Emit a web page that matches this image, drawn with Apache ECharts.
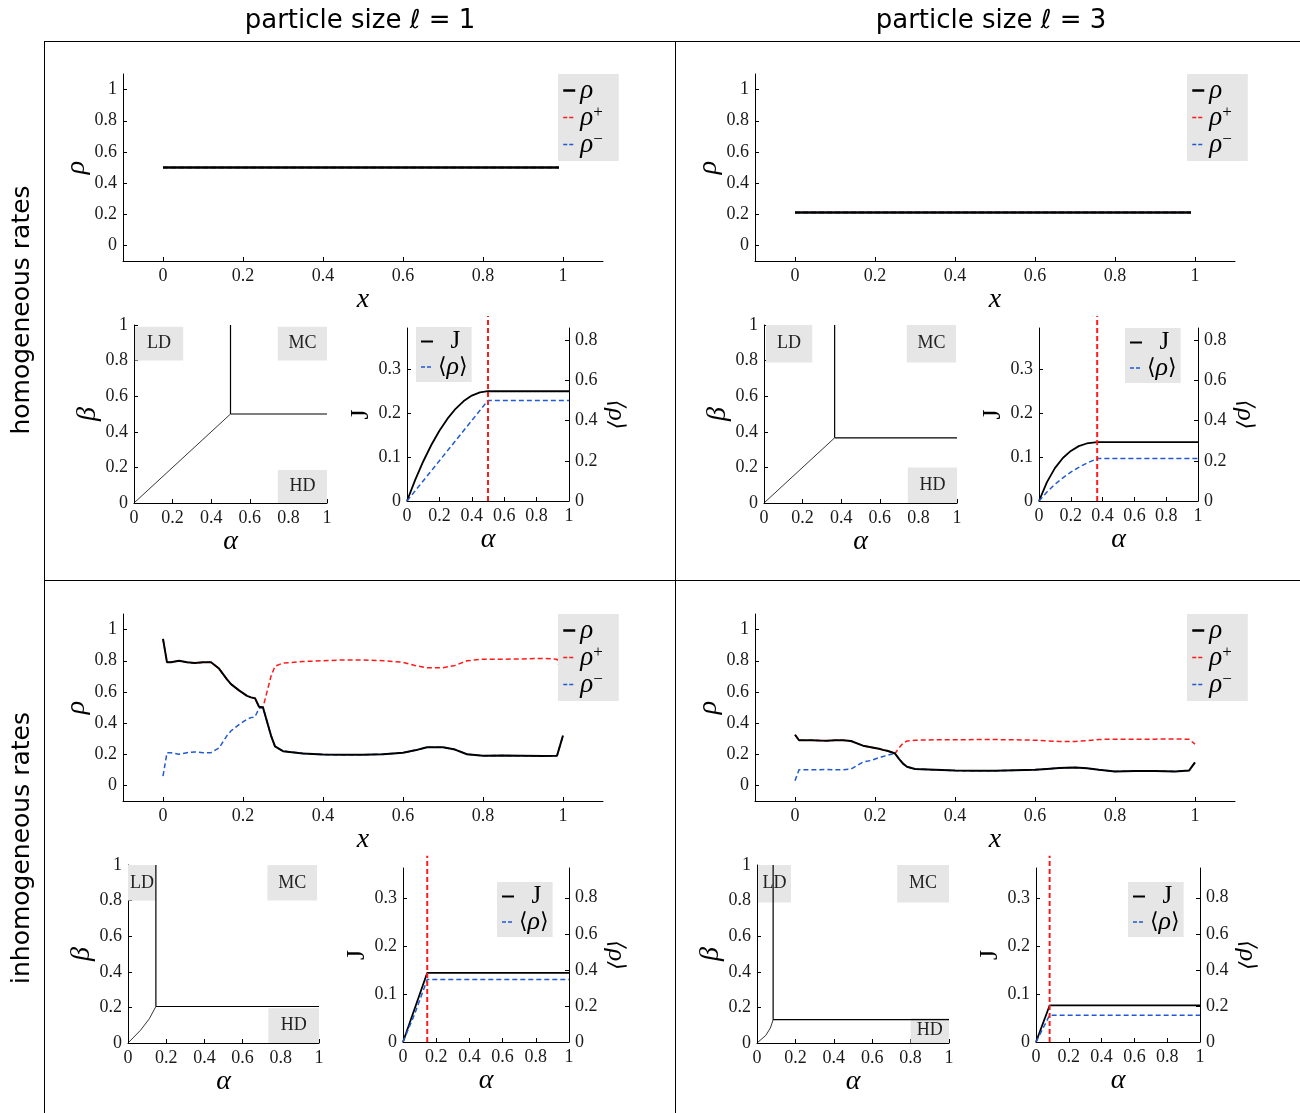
<!DOCTYPE html>
<html><head><meta charset="utf-8">
<script src="https://cdn.jsdelivr.net/npm/echarts@6/dist/echarts.min.js"></script>
<style>html,body{margin:0;padding:0;background:#fff}#c{width:1300px;height:1113px}</style>
</head><body><div id="c"></div>
<script>
// ---------------- DATA ----------------
const columnTitles = ['particle size \u2113 = 1', 'particle size \u2113 = 3'];
const rowTitles = ['homogeneous rates', 'inhomogeneous rates'];
const phaseLabels = ['LD', 'MC', 'HD'];

const densityTicks = [0, 0.2, 0.4, 0.6, 0.8, 1];
const unitTicks = [0, 0.2, 0.4, 0.6, 0.8, 1];
const currentTicks = [0, 0.1, 0.2, 0.3];
const meanDensityTicks = [0, 0.2, 0.4, 0.6, 0.8];

// homogeneous density profiles
const xHom = [0, 0.99];
const rhoHomL1 = [0.5, 0.5];
const rhoHomL3 = [0.211, 0.211];

// inhomogeneous density profiles
const xInh = [0, 0.01, 0.02, 0.04, 0.06, 0.08, 0.10, 0.12, 0.14, 0.16, 0.17, 0.19, 0.21, 0.22, 0.23, 0.24, 0.25,
  0.26, 0.27, 0.28, 0.30, 0.35, 0.40, 0.45, 0.50, 0.55, 0.60, 0.63, 0.66, 0.70, 0.73, 0.76, 0.80, 0.85, 0.90, 0.95, 0.985, 1.0];
const rhoInhL1 = [0.94, 0.79, 0.79, 0.80, 0.79, 0.785, 0.79, 0.79, 0.75, 0.68, 0.65, 0.61, 0.575, 0.565, 0.56, 0.505, 0.50,
  0.41, 0.32, 0.25, 0.22, 0.205, 0.198, 0.196, 0.197, 0.20, 0.21, 0.225, 0.245, 0.245, 0.23, 0.20, 0.19, 0.192, 0.19, 0.188, 0.19, 0.32];
const rhoPlusInhL1 = [0.94, 0.79, 0.79, 0.80, 0.79, 0.785, 0.79, 0.79, 0.75, 0.68, 0.65, 0.61, 0.575, 0.565, 0.56, 0.505, 0.50,
  0.60, 0.70, 0.765, 0.785, 0.795, 0.80, 0.805, 0.805, 0.80, 0.79, 0.77, 0.755, 0.755, 0.77, 0.80, 0.81, 0.81, 0.812, 0.815, 0.81, 0.685];
const rhoMinusInhL1 = [0.06, 0.21, 0.21, 0.20, 0.21, 0.215, 0.21, 0.21, 0.24, 0.32, 0.35, 0.39, 0.425, 0.435, 0.44, 0.495, 0.50,
  0.41, 0.32, 0.25, 0.22, 0.205, 0.198, 0.196, 0.197, 0.20, 0.21, 0.225, 0.245, 0.245, 0.23, 0.20, 0.19, 0.192, 0.19, 0.188, 0.19, 0.32];
const rhoInhL3 = [0.325, 0.29, 0.29, 0.29, 0.288, 0.287, 0.29, 0.29, 0.285, 0.265, 0.255, 0.245, 0.235, 0.228, 0.222, 0.215, 0.205,
  0.17, 0.14, 0.12, 0.105, 0.10, 0.095, 0.094, 0.094, 0.097, 0.10, 0.106, 0.112, 0.115, 0.11, 0.10, 0.09, 0.092, 0.092, 0.09, 0.095, 0.148];
const rhoPlusInhL3 = [0.325, 0.29, 0.29, 0.29, 0.288, 0.287, 0.29, 0.29, 0.285, 0.265, 0.255, 0.245, 0.235, 0.228, 0.222, 0.215, 0.205,
  0.24, 0.27, 0.285, 0.29, 0.293, 0.293, 0.294, 0.294, 0.293, 0.29, 0.286, 0.282, 0.282, 0.287, 0.295, 0.297, 0.297, 0.297, 0.298, 0.296, 0.265];
const rhoMinusInhL3 = [0.03, 0.10, 0.10, 0.10, 0.101, 0.102, 0.10, 0.10, 0.105, 0.135, 0.15, 0.16, 0.178, 0.185, 0.192, 0.20, 0.205,
  0.17, 0.14, 0.12, 0.105, 0.10, 0.095, 0.094, 0.094, 0.097, 0.10, 0.106, 0.112, 0.115, 0.11, 0.10, 0.09, 0.092, 0.092, 0.09, 0.095, 0.148];

// phase diagrams: LD/HD coexistence line, ending at the triple point
const coexAlphaHomL1 = [0, 0.5];
const coexBetaHomL1 = [0, 0.5];
const coexAlphaHomL3 = [0, 0.366];
const coexBetaHomL3 = [0, 0.366];
const coexAlphaInhL1 = [0, 0.065, 0.112, 0.146];
const coexBetaInhL1 = [0, 0.071, 0.137, 0.205];
const coexAlphaInhL3 = [0, 0.046, 0.070, 0.084];
const coexBetaInhL3 = [0, 0.043, 0.085, 0.131];

// current J and mean density vs alpha
const alphaJHomL1 = [0, 0.05, 0.1, 0.15, 0.2, 0.25, 0.3, 0.35, 0.4, 0.45, 0.5, 1];
const currentHomL1 = [0, 0.0475, 0.09, 0.1275, 0.16, 0.1875, 0.21, 0.2275, 0.24, 0.2475, 0.25, 0.25];
const alphaRhoHomL1 = [0, 0.5, 1];
const meanRhoHomL1 = [0, 0.5, 0.5];
const alphaJHomL3 = [0, 0.05, 0.1, 0.15, 0.2, 0.25, 0.3, 0.366, 1];
const currentHomL3 = [0, 0.043, 0.075, 0.098, 0.114, 0.125, 0.131, 0.134, 0.134];
const alphaRhoHomL3 = [0, 0.05, 0.1, 0.15, 0.2, 0.25, 0.3, 0.366, 1];
const meanRhoHomL3 = [0, 0.045, 0.083, 0.115, 0.143, 0.167, 0.188, 0.211, 0.211];
const alphaJInhL1 = [0, 0.146, 1];
const currentInhL1 = [0, 0.144, 0.144];
const alphaRhoInhL1 = [0, 0.07, 0.146, 1];
const meanRhoInhL1 = [0, 0.155, 0.346, 0.346];
const alphaJInhL3 = [0, 0.083, 1];
const currentInhL3 = [0, 0.076, 0.076];
const alphaRhoInhL3 = [0, 0.083, 1];
const meanRhoInhL3 = [0, 0.148, 0.148];
const alphaCritical = [0.5, 0.366, 0.146, 0.083];

// ---------------- STYLE / BUILD ----------------
const SERIF = '"Liberation Serif","DejaVu Serif",serif';
const SANS = '"DejaVu Sans",sans-serif';
const RED = '#ff1a1a', BLUE = '#1f5ad1', BOX = '#e6e6e6';

const option = {animation: false, backgroundColor: '#fff', grid: [], xAxis: [], yAxis: [], series: [], legend: [], graphic: []};

function addGrid(r) { option.grid.push({left: r[0], top: r[1], width: r[2], height: r[3]}); return option.grid.length - 1; }

function axis(o) {
  return {
    type: 'value', gridIndex: o.g, min: o.min, max: o.max, position: o.position,
    axisLine: {show: true, onZero: false, lineStyle: {color: '#000', width: 1}},
    axisTick: {show: true, inside: true, length: 4, lineStyle: {color: '#000', width: 1}, customValues: o.ticks},
    axisLabel: {color: '#1a1a1a', fontFamily: SERIF, fontSize: o.fs || 18, margin: 6, customValues: o.ticks},
    splitLine: {show: false},
    name: o.name, nameLocation: 'middle', nameGap: o.gap, nameRotate: o.rot,
    nameTextStyle: Object.assign({color: '#000', fontFamily: SERIF, fontStyle: 'italic', fontSize: 28}, o.nts || {})
  };
}
function addX(o) { option.xAxis.push(axis(o)); return option.xAxis.length - 1; }
function addY(o) { option.yAxis.push(axis(o)); return option.yAxis.length - 1; }

function line(name, xi, yi, xs, ys, color, width, dash, z, extra) {
  return Object.assign({
    type: 'line', name: name, xAxisIndex: xi, yAxisIndex: yi,
    data: xs.map((x, i) => [x, ys[i]]), symbol: 'none', showSymbol: false, silent: true,
    lineStyle: {color: color, width: width, type: dash ? [5, 3] : 'solid'}, itemStyle: {color: color}, z: z
  }, extra || {});
}

const densLegendRich = {
  r: {fontFamily: SERIF, fontStyle: 'italic', fontSize: 27, lineHeight: 26, color: '#000'},
  s: {fontFamily: SERIF, fontSize: 17, lineHeight: 14, verticalAlign: 'top', color: '#000'}
};
const jLegendRich = {
  n: {fontFamily: SERIF, fontSize: 25, lineHeight: 26, color: '#000'},
  b: {fontFamily: '"DejaVu Serif",serif', fontSize: 22, lineHeight: 26, color: '#000'},
  r: {fontFamily: SERIF, fontStyle: 'italic', fontSize: 26, lineHeight: 26, color: '#000'}
};
const noSymbol = {opacity: 0, color: 'rgba(0,0,0,0)', borderWidth: 0};
const legendDash = [4, 2];

function densityPanel(rect, legendPos, xs, rho, rhoP, rhoM, w) {
  const g = addGrid(rect);
  const xi = addX({g: g, min: -0.1, max: 1.1, ticks: densityTicks, name: 'x', gap: 18});
  const yi = addY({g: g, min: -0.1, max: 1.1, ticks: densityTicks, name: '\u03c1', gap: 18, rot: 90});
  option.series.push(line('rhoP', xi, yi, xs, rhoP, RED, 1.5, true, 3));
  option.series.push(line('rhoM', xi, yi, xs, rhoM, BLUE, 1.5, true, 4));
  option.series.push(line('rho', xi, yi, xs, rho, '#000', w, false, 5));
  option.legend.push({
    orient: 'vertical', left: legendPos[0], top: legendPos[1], backgroundColor: BOX, borderWidth: 0,
    padding: [3, 16, 3, 4], itemGap: 0, itemWidth: 12, itemHeight: 10, selectedMode: false,
    itemStyle: noSymbol,
    data: [
      {name: 'rho', lineStyle: {width: 2.5}},
      {name: 'rhoP', lineStyle: {type: legendDash, width: 1.5}},
      {name: 'rhoM', lineStyle: {type: legendDash, width: 1.5}}
    ],
    formatter: n => ({rho: '{r|\u03c1}', rhoP: '{r|\u03c1}{s|+}', rhoM: '{r|\u03c1}{s|\u2212}'})[n],
    textStyle: {rich: densLegendRich}
  });
}

function phasePanel(rect, coexA, coexB, boxes) {
  const g = addGrid(rect);
  const xi = addX({g: g, min: 0, max: 1, ticks: unitTicks, name: '\u03b1', gap: 19});
  const yi = addY({g: g, min: 0, max: 1, ticks: unitTicks, name: '\u03b2', gap: 22, rot: 90});
  const ac = coexA[coexA.length - 1], bc = coexB[coexB.length - 1];
  option.series.push({
    type: 'line', xAxisIndex: xi, yAxisIndex: yi, data: [[0, 0]], symbol: 'none', silent: true,
    lineStyle: {opacity: 0}, z: 1,
    markArea: {
      silent: true, itemStyle: {color: BOX, borderWidth: 0},
      label: {show: true, position: 'inside', color: '#222', fontFamily: SERIF, fontSize: 18},
      emphasis: {disabled: true},
      data: boxes.map((b, i) => [{name: phaseLabels[i], xAxis: b[0], yAxis: b[1]}, {xAxis: b[2], yAxis: b[3]}])
    }
  });
  option.series.push(line('coex', xi, yi, coexA, coexB, '#000', 0.8, false, 3));
  option.series.push(line('mcv', xi, yi, [ac, ac], [bc, 1], '#000', 1.2, false, 3));
  option.series.push(line('mch', xi, yi, [ac, 1], [bc, bc], '#000', 1.2, false, 3));
}

function currentPanel(rect, legendPos, aJ, J, aR, R, aC, jMax, rMax) {
  const g = addGrid(rect);
  const xi = addX({g: g, min: 0, max: 1, ticks: unitTicks, name: '\u03b1', gap: 15});
  const yj = addY({g: g, min: 0, max: jMax, ticks: currentTicks, name: 'J', gap: 29, rot: 90, position: 'left',
    nts: {fontStyle: 'normal', fontSize: 26}});
  const yr = addY({g: g, min: 0, max: rMax, ticks: meanDensityTicks, name: '{b|\u27e8}{r|\u03c1}{b|\u27e9}', gap: 34, rot: -90,
    position: 'right', nts: {rich: jLegendRich}});
  option.series.push(line('J', xi, yj, aJ, J, '#000', 1.8, false, 3));
  option.series.push(line('rhoAvg', xi, yr, aR, R, BLUE, 1.5, true, 4));
  option.series.push(line('crit', xi, yj, [aC, aC], [0, jMax * 1.07], RED, 2, true, 5, {clip: false}));
  option.legend.push({
    orient: 'vertical', left: legendPos[0], top: legendPos[1], backgroundColor: BOX, borderWidth: 0,
    padding: [2, 4, 2, 4], itemGap: 0, itemWidth: 12, itemHeight: 10, selectedMode: false,
    itemStyle: noSymbol,
    data: [
      {name: 'J', lineStyle: {width: 2}},
      {name: 'rhoAvg', lineStyle: {type: legendDash, width: 1.5}}
    ],
    formatter: n => ({J: '{n|  J}', rhoAvg: '{b|\u27e8}{r|\u03c1}{b|\u27e9}'})[n],
    textStyle: {rich: jLegendRich}
  });
}

// Panel: homogeneous, l = 1
densityPanel([123, 74, 480, 187], [558, 74], xHom, rhoHomL1, rhoHomL1, rhoHomL1, 2.5);
phasePanel([134, 325, 193, 178], coexAlphaHomL1, coexBetaHomL1,
  [[0.005, 0.80, 0.255, 0.99], [0.745, 0.80, 1, 0.99], [0.745, 0, 1, 0.185]]);
currentPanel([407, 328, 162, 173], [416, 327], alphaJHomL1, currentHomL1, alphaRhoHomL1, meanRhoHomL1, alphaCritical[0], 0.394, 0.86);

// Panel: homogeneous, l = 3
densityPanel([755, 74, 480, 187], [1187, 74], xHom, rhoHomL3, rhoHomL3, rhoHomL3, 2.5);
phasePanel([764, 325, 193, 178], coexAlphaHomL3, coexBetaHomL3,
  [[0.01, 0.79, 0.25, 1], [0.74, 0.79, 0.995, 1], [0.745, 0, 1, 0.2]]);
currentPanel([1039, 328, 159, 173], [1125, 328], alphaJHomL3, currentHomL3, alphaRhoHomL3, meanRhoHomL3, alphaCritical[1], 0.394, 0.86);

// Panel: inhomogeneous, l = 1
densityPanel([123, 614, 480, 187], [558, 614], xInh, rhoInhL1, rhoPlusInhL1, rhoMinusInhL1, 2);
phasePanel([128, 865, 191, 178], coexAlphaInhL1, coexBetaInhL1,
  [[0, 0.8, 0.146, 1], [0.73, 0.8, 0.99, 1], [0.735, 0, 1, 0.195]]);
currentPanel([403, 868, 166, 174], [497, 882], alphaJInhL1, currentInhL1, alphaRhoInhL1, meanRhoInhL1, alphaCritical[2], 0.362, 0.965);

// Panel: inhomogeneous, l = 3
densityPanel([755, 614, 480, 187], [1187, 614], xInh, rhoInhL3, rhoPlusInhL3, rhoMinusInhL3, 2);
phasePanel([757, 865, 192, 178], coexAlphaInhL3, coexBetaInhL3,
  [[0.005, 0.79, 0.177, 1], [0.73, 0.79, 1, 1], [0.8, 0, 1, 0.14]]);
currentPanel([1036, 868, 164, 174], [1128, 882], alphaJInhL3, currentInhL3, alphaRhoInhL3, meanRhoInhL3, alphaCritical[3], 0.362, 0.965);

// frame lines and titles
const frame = [[44, 41.5, 1300, 41.5], [44, 580.5, 1300, 580.5], [44.5, 41, 44.5, 1113], [675.5, 41, 675.5, 1113]];
frame.forEach(f => option.graphic.push({type: 'line', silent: true, shape: {x1: f[0], y1: f[1], x2: f[2], y2: f[3]},
  style: {stroke: '#000', lineWidth: 1}}));
[360, 991].forEach((x, i) => option.graphic.push({type: 'text', silent: true, x: x, y: 21,
  style: {text: columnTitles[i], fontFamily: SANS, fontSize: 26, fill: '#000', align: 'center', verticalAlign: 'middle'}}));
[310, 848].forEach((y, i) => option.graphic.push({type: 'text', silent: true, x: 22, y: y, rotation: Math.PI / 2,
  style: {text: rowTitles[i], fontFamily: SANS, fontSize: 25, fill: '#000', align: 'center', verticalAlign: 'middle'}}));

const chart = echarts.init(document.getElementById('c'), null, {renderer: 'canvas'});
chart.setOption(option);
</script></body></html>
